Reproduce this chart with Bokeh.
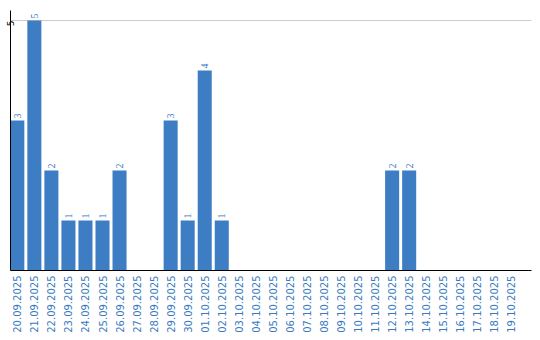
import math
from bokeh.plotting import figure
from bokeh.models import ColumnDataSource, Range1d, FixedTicker, LabelSet
from bokeh.embed import file_html
from bokeh.resources import INLINE

dates = ["20.09.2025", "21.09.2025", "22.09.2025", "23.09.2025", "24.09.2025",
         "25.09.2025", "26.09.2025", "27.09.2025", "28.09.2025", "29.09.2025",
         "30.09.2025", "01.10.2025", "02.10.2025", "03.10.2025", "04.10.2025",
         "05.10.2025", "06.10.2025", "07.10.2025", "08.10.2025", "09.10.2025",
         "10.10.2025", "11.10.2025", "12.10.2025", "13.10.2025", "14.10.2025",
         "15.10.2025", "16.10.2025", "17.10.2025", "18.10.2025", "19.10.2025"]
counts = [3, 5, 2, 1, 1, 1, 2, 0, 0, 3, 1, 4, 1, 0, 0,
          0, 0, 0, 0, 0, 0, 0, 2, 2, 0, 0, 0, 0, 0, 0]
y_ticks = [5]

BAR = "#3c7dc4"
LBL = "#3a7bc0"

xs = list(range(len(dates)))
src = ColumnDataSource(dict(x=xs, y=counts))
nz = [i for i, c in enumerate(counts) if c > 0]
lsrc = ColumnDataSource(dict(x=[xs[i] for i in nz], y=[counts[i] for i in nz],
                             t=[str(counts[i]) for i in nz]))

p = figure(width=540, height=340, output_backend="svg", toolbar_location=None,
           x_range=Range1d(-0.4, 30.18), y_range=Range1d(0, 5.2))
p.min_border_left = 0
p.min_border_right = 9
p.min_border_top = 10
p.min_border_bottom = 70
p.outline_line_color = None
p.background_fill_color = "white"
p.border_fill_color = "white"

p.vbar(x="x", top="y", width=14/17, source=src, fill_color=BAR, line_color=None)

labels = LabelSet(x="x", y="y", text="t", source=lsrc, angle=math.pi/2,
                  text_align="left", text_baseline="middle", y_offset=2,
                  text_font_size="10px", text_color=LBL, text_font="DejaVu Sans")
p.add_layout(labels)

p.xgrid.grid_line_color = None
p.ygrid.grid_line_color = "#cccccc"
p.ygrid.ticker = FixedTicker(ticks=y_ticks)

xa = p.xaxis[0]
xa.ticker = FixedTicker(ticks=xs)
xa.major_label_overrides = {i: d for i, d in enumerate(dates)}
xa.major_label_orientation = math.pi/2
xa.major_label_text_color = LBL
xa.major_label_text_font = "DejaVu Sans"
xa.major_label_text_font_size = "10px"
xa.major_tick_out = 0
xa.major_tick_in = 0
xa.minor_tick_out = 0
xa.minor_tick_in = 0
xa.major_label_standoff = 5
xa.axis_line_color = "black"
xa.axis_line_width = 1

ya = p.yaxis[0]
ya.ticker = FixedTicker(ticks=y_ticks)
ya.major_label_orientation = math.pi/2
ya.major_label_text_color = "black"
ya.major_label_text_font = "DejaVu Sans"
ya.major_label_text_font_size = "9px"
ya.major_tick_out = 0
ya.major_tick_in = 0
ya.minor_tick_out = 0
ya.minor_tick_in = 0
ya.major_label_standoff = 0
ya.axis_line_color = "black"

open("out.html", "w").write(file_html(p, INLINE))
